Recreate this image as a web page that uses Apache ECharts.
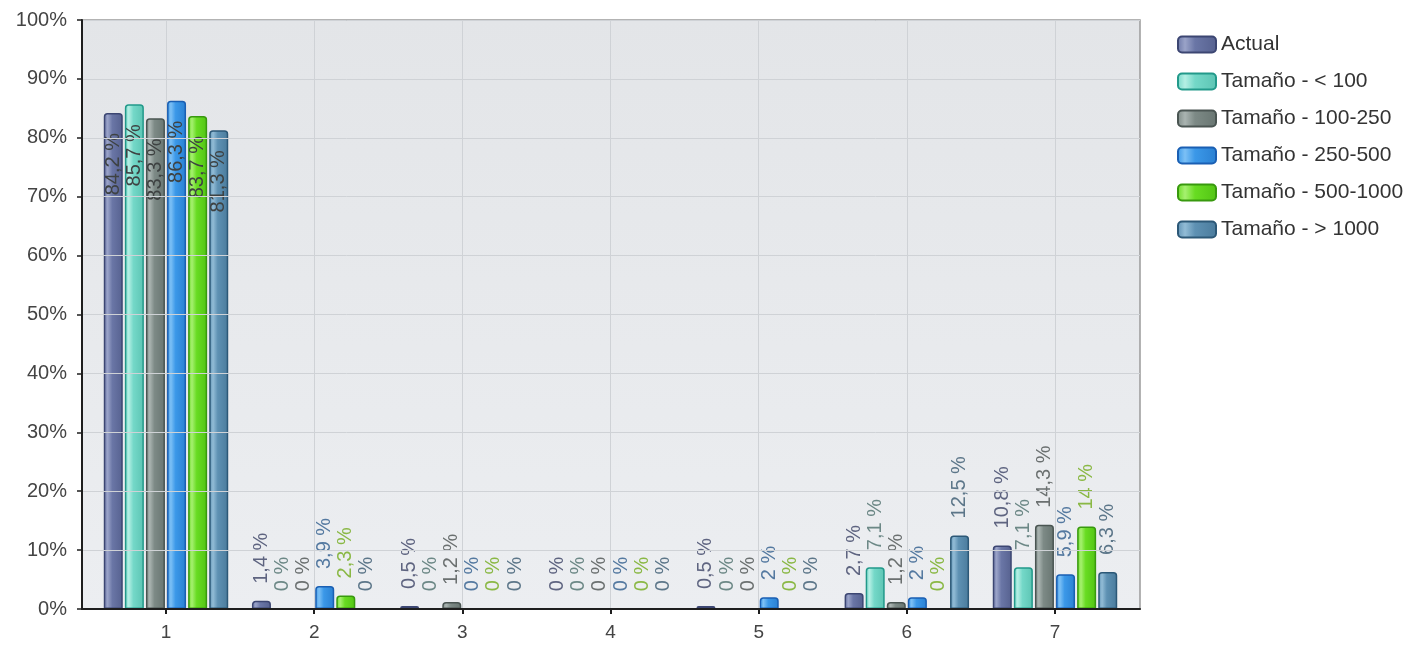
<!DOCTYPE html>
<html>
<head>
<meta charset="utf-8">
<script src="https://cdn.jsdelivr.net/npm/echarts@6/dist/echarts.min.js"></script>
<style>html,body{margin:0;padding:0;background:#fff}#c{width:1412px;height:646px}</style>
</head>
<body>
<div id="c"></div>
<script>
var categories = ['1', '2', '3', '4', '5', '6', '7'];
var yTicks = [0, 10, 20, 30, 40, 50, 60, 70, 80, 90, 100];
var seriesNames = ['Actual', 'Tamaño - < 100', 'Tamaño - 100-250', 'Tamaño - 250-500', 'Tamaño - 500-1000', 'Tamaño - > 1000'];
var actual    = [84.2, 1.4, 0.5, 0, 0.5, 2.7, 10.8];
var lt100     = [85.7, 0, 0, 0, 0, 7.1, 7.1];
var s100_250  = [83.3, 0, 1.2, 0, 0, 1.2, 14.3];
var s250_500  = [86.3, 3.9, 0, 0, 2, 2, 5.9];
var s500_1000 = [83.7, 2.3, 0, 0, 0, 0, 14];
var gt1000    = [81.3, 0, 0, 0, 0, 12.5, 6.3];

var values = [actual, lt100, s100_250, s250_500, s500_1000, gt1000];
var fills = [
  ['#9aa3c8', '#6a76a6', '#56618f'],
  ['#b4efe4', '#74d8c8', '#5cc4b3'],
  ['#aab4b1', '#7d8a86', '#687571'],
  ['#7cc0f5', '#3b98e8', '#2a80d2'],
  ['#a6f070', '#68dc22', '#52c414'],
  ['#92bcd6', '#5e91b3', '#4a7b9c']
];
var borders = ['#3c4672', '#22998a', '#4a5552', '#1a5fb3', '#38990e', '#2c5877'];
var labelColors = ['#5e6480', '#6c8886', '#6b7070', '#5479a0', '#8ab845', '#5c7689'];

function fmt(v) { return String(v).replace('.', ',') + ' %'; }

var FONT = '"Liberation Sans", Arial, sans-serif';

var series = values.map(function (vals, i) {
  return {
    name: seriesNames[i],
    type: 'bar',
    xAxisIndex: 1,
    yAxisIndex: 1,
    clip: false,
    barWidth: 19,
    barGap: '11%',
    itemStyle: {
      color: {
        type: 'linear', x: 0, y: 0, x2: 1, y2: 0,
        colorStops: [
          {offset: 0, color: fills[i][1]},
          {offset: 0.2, color: fills[i][0]},
          {offset: 0.45, color: fills[i][1]},
          {offset: 1, color: fills[i][2]}
        ]
      },
      borderColor: borders[i],
      borderWidth: 1.5,
      borderRadius: [3, 3, 0, 0]
    },
    label: {
      show: true,
      rotate: 90,
      position: 'top',
      align: 'left',
      verticalAlign: 'middle',
      distance: 17,
      fontSize: 20,
      fontFamily: FONT,
      color: labelColors[i],
      formatter: function (p) { return fmt(p.value); }
    },
    data: vals.map(function (v) {
      if (v > 50) {
        return {value: v, label: {position: 'insideTop', align: 'right', distance: 20, color: '#3e4242'}};
      }
      return v;
    })
  };
});

var chart = echarts.init(document.getElementById('c'), null, {renderer: 'canvas'});
chart.setOption({
  backgroundColor: '#ffffff',
  animation: false,
  textStyle: {fontFamily: FONT},
  legend: {
    orient: 'vertical',
    left: 1172,
    top: 29,
    itemWidth: 38,
    itemHeight: 16,
    itemGap: 16,
    textStyle: {fontSize: 21, color: '#333', fontFamily: FONT},
    data: seriesNames
  },
  grid: [
    {left: 82, right: 272, top: 20, bottom: 37, show: true,
     backgroundColor: {type: 'linear', x: 0, y: 0, x2: 0, y2: 1,
       colorStops: [{offset: 0, color: '#e3e5e8'}, {offset: 1, color: '#eceef1'}]},
     borderColor: '#9b9b9b', borderWidth: 1.5},
    {left: 166, right: 357, top: 20, bottom: 37}
  ],
  xAxis: [
    {type: 'value', gridIndex: 0, min: 0, max: 1,
     axisLine: {show: true, onZero: false, lineStyle: {color: '#1e1e1e', width: 2}},
     axisTick: {show: false}, axisLabel: {show: false}, splitLine: {show: false}, z: 5},
    {type: 'category', gridIndex: 1, data: categories, boundaryGap: false,
     axisLine: {show: false},
     axisTick: {show: true, length: 5, lineStyle: {color: '#1e1e1e', width: 2}},
     axisLabel: {fontSize: 19, color: '#444', margin: 14, fontFamily: FONT},
     splitLine: {show: true, lineStyle: {color: '#cfd2d6', width: 1}}}
  ],
  yAxis: [
    {type: 'value', gridIndex: 0, min: 0, max: 100, interval: 10,
     axisLine: {show: true, lineStyle: {color: '#1e1e1e', width: 2}},
     axisTick: {show: true, length: 5, lineStyle: {color: '#1e1e1e', width: 1.5}},
     axisLabel: {fontSize: 20, color: '#444', margin: 15, fontFamily: FONT,
       formatter: function (v) { return yTicks.indexOf(v) >= 0 ? v + '%' : ''; }},
     splitLine: {show: true, lineStyle: {color: '#cfd2d6', width: 1}}, z: 5},
    {type: 'value', gridIndex: 1, min: 0, max: 100, show: false}
  ],
  series: series
});
</script>
</body>
</html>
